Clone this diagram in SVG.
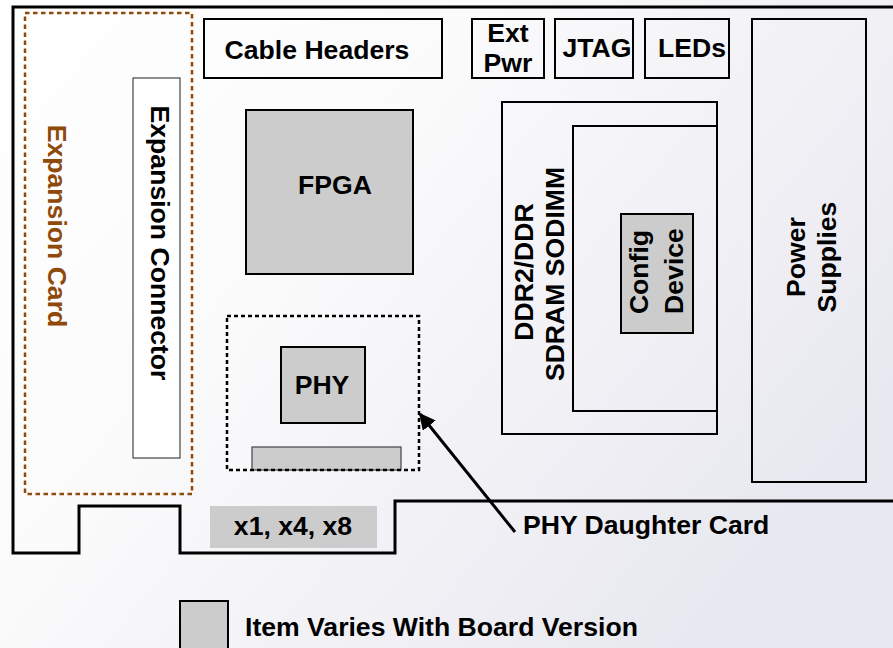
<svg xmlns="http://www.w3.org/2000/svg" width="893" height="648" viewBox="0 0 893 648">
<defs>
<linearGradient id="bg" x1="0" y1="0" x2="1" y2="0.6">
<stop offset="0" stop-color="#ffffff"/>
<stop offset="0.4" stop-color="#fbfbfc"/>
<stop offset="1" stop-color="#e8e8f0"/>
</linearGradient>
<marker id="ah" viewBox="0 0 10 10" refX="9" refY="5" markerWidth="5.5" markerHeight="5.5" orient="auto" markerUnits="strokeWidth">
<path d="M0,0 L10,5 L0,10 z" fill="#000"/>
</marker>
<style>
.t{font-family:"Liberation Sans",Arial,sans-serif;font-weight:bold;font-size:26.6px;fill:#000}
.box{fill:none;stroke:#000;stroke-width:2}
.gray{fill:#cccccc;stroke:#000;stroke-width:2}
.thin{stroke:#444;stroke-width:1.2}
</style>
</defs>
<rect x="0" y="0" width="893" height="648" fill="url(#bg)"/>
<g id="board">
<path d="M893,7 L13,7 L13,553 L79,553 L79,506 L180,506 L180,553 L395,553 L395,501 L893,501" fill="none" stroke="#000" stroke-width="3"/>
</g>
<g id="expansion-card">
<rect x="25" y="13" width="167" height="481" fill="none" stroke="#8f4a0a" stroke-width="2.5" stroke-dasharray="4.5,3.5"/>
<text class="t" style="fill:#8f4a0a" text-anchor="middle" transform="translate(48,226) rotate(90)">Expansion Card</text>
</g>
<g id="expansion-connector">
<rect x="133" y="78" width="47" height="380" fill="#ffffff" class="thin"/>
<text class="t" text-anchor="middle" transform="translate(151,243) rotate(90)">Expansion Connector</text>
</g>
<g id="cable-headers">
<rect class="box" x="204" y="19" width="238" height="59"/>
<text class="t" x="317" y="59" text-anchor="middle">Cable Headers</text>
</g>
<g id="ext-pwr">
<rect class="box" x="472" y="19" width="72" height="59"/>
<text class="t" x="508" y="42" text-anchor="middle">Ext</text>
<text class="t" x="508" y="72" text-anchor="middle">Pwr</text>
</g>
<g id="jtag">
<rect class="box" x="555" y="19" width="78" height="59"/>
<text class="t" x="597" y="57" text-anchor="middle">JTAG</text>
</g>
<g id="leds">
<rect class="box" x="645" y="19" width="84" height="59"/>
<text class="t" x="692" y="57" text-anchor="middle">LEDs</text>
</g>
<g id="power-supplies">
<rect class="box" x="752" y="19" width="114" height="463"/>
<text class="t" text-anchor="middle" transform="translate(805,257) rotate(-90)">Power</text>
<text class="t" text-anchor="middle" transform="translate(836,257) rotate(-90)">Supplies</text>
</g>
<g id="fpga">
<rect class="gray" x="246" y="110" width="167" height="164"/>
<text class="t" x="335" y="194" text-anchor="middle">FPGA</text>
</g>
<g id="sodimm">
<rect class="box" x="502" y="102" width="215" height="332"/>
<rect class="box" x="573" y="126" width="144" height="285"/>
<text class="t" text-anchor="middle" transform="translate(533,272) rotate(-90)">DDR2/DDR</text>
<text class="t" text-anchor="middle" transform="translate(564,274) rotate(-90)">SDRAM SODIMM</text>
</g>
<g id="config-device">
<rect class="gray" x="621" y="214" width="72" height="119"/>
<text class="t" text-anchor="middle" transform="translate(648,272) rotate(-90)">Config</text>
<text class="t" text-anchor="middle" transform="translate(683,271) rotate(-90)">Device</text>
</g>
<g id="phy-daughter-card">
<rect x="252" y="447" width="149" height="23" fill="#cccccc" class="thin"/>
<rect x="227" y="316" width="192" height="154" fill="none" stroke="#000" stroke-width="2.5" stroke-dasharray="4,3"/>
</g>
<g id="phy">
<rect class="gray" x="281" y="347" width="84" height="76"/>
<text class="t" x="322" y="394" text-anchor="middle">PHY</text>
</g>
<g id="lanes">
<rect x="210" y="506" width="167" height="42" fill="#cccccc"/>
<text class="t" x="293" y="535" text-anchor="middle">x1, x4, x8</text>
</g>
<g id="connectors">
<line x1="515" y1="532" x2="420" y2="414" stroke="#000" stroke-width="3" marker-end="url(#ah)"/>
</g>
<g id="phy-daughter-label">
<text class="t" x="523" y="534">PHY Daughter Card</text>
</g>
<g id="legend">
<rect class="gray" x="180" y="601" width="48" height="50"/>
<text class="t" x="245" y="636">Item Varies With Board Version</text>
</g>
</svg>
